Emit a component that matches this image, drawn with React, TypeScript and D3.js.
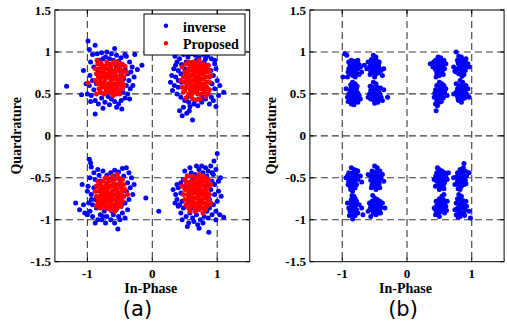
import React from "react";
import * as d3 from "d3";

// values in hundredths of a unit
const inverseA_Q1 = [[35,95],[42,92],[48,97],[55,94],[60,98],[66,96],[72,93],[78,97],[85,95],[91,92],[96,90],[38,88],[45,85],[52,88],[33,80],[40,78],[30,72],[36,70],[28,64],[34,60],[40,58],[31,54],[38,50],[44,46],[50,42],[56,40],[48,34],[42,30],[46,24],[53,27],[62,19],[58,35],[64,38],[70,36],[76,40],[82,44],[88,38],[94,42],[98,35],[102,48],[110,52],[96,56],[92,62],[100,66],[94,72],[90,78],[98,80],[86,84],[80,88],[74,86],[68,90],[61,87],[86,50],[91,46],[84,56],[78,46],[45,64],[44,74],[50,80],[88,70],[96,86],[104,60],[72,44],[66,42],[54,46],[40,66],[36,84],[82,92],[70,99],[57,30]];
const inverseA_Q2 = [[-99,113],[-132,59],[-109,49],[-88,26],[-55,34],[-27,97],[-16,84],[-23,79],[-97,103],[-92,97],[-85,98],[-78,99],[-70,100],[-63,98],[-55,96],[-48,93],[-40,95],[-35,88],[-31,82],[-95,88],[-90,82],[-96,72],[-92,66],[-97,60],[-90,55],[-94,48],[-88,42],[-95,41],[-83,38],[-78,45],[-86,62],[-84,75],[-82,90],[-76,92],[-72,94],[-66,92],[-60,90],[-52,89],[-46,85],[-42,80],[-38,74],[-36,66],[-40,60],[-34,56],[-38,50],[-42,45],[-48,42],[-52,38],[-58,41],[-63,44],[-68,47],[-73,40],[-66,37],[-60,50],[-45,52],[-35,44],[-30,60],[-28,70],[-44,68],[-48,76],[-56,84],[-80,52],[-102,62],[-100,50],[-76,33],[-47,32],[-42,97],[-58,104],[-88,108],[-106,78],[-33,76]];
const inverseA_Q3 = [[-97,-28],[-95,-32],[-94,-37],[-90,-44],[-96,-50],[-88,-52],[-82,-47],[-76,-42],[-70,-47],[-64,-44],[-58,-41],[-52,-43],[-46,-39],[-40,-38],[-36,-44],[-32,-50],[-44,-48],[-50,-52],[-38,-56],[-34,-62],[-40,-66],[-44,-72],[-36,-76],[-42,-80],[-48,-84],[-38,-88],[-46,-92],[-52,-96],[-56,-88],[-60,-94],[-64,-100],[-70,-96],[-74,-90],[-80,-94],[-84,-100],[-88,-104],[-92,-96],[-96,-90],[-100,-94],[-104,-92],[-106,-82],[-98,-80],[-92,-82],[-88,-76],[-94,-70],[-100,-66],[-108,-58],[-90,-62],[-86,-86],[-78,-100],[-72,-104],[-66,-86],[-58,-104],[-53,-111],[-50,-100],[-42,-98],[-94,-76],[-86,-60],[-80,-54],[-118,-80],[-112,-88],[-10,-74],[-30,-70],[-28,-58],[-60,-48],[-66,-52],[-84,-40],[-99,-60],[-76,-96],[-62,-90]];
const inverseA_Q4 = [[10,-90],[100,-21],[95,-30],[90,-36],[86,-42],[92,-44],[98,-40],[84,-48],[78,-44],[72,-40],[66,-46],[60,-44],[54,-48],[48,-52],[44,-56],[50,-60],[40,-62],[36,-70],[44,-68],[38,-76],[42,-82],[48,-86],[44,-92],[52,-96],[58,-92],[62,-98],[68,-94],[74,-100],[80,-96],[86,-98],[92,-94],[98,-90],[104,-94],[110,-97],[88,-86],[94,-82],[100,-78],[106,-72],[96,-70],[90,-64],[96,-58],[102,-54],[92,-54],[86,-58],[87,-115],[78,-104],[70,-106],[64,-102],[56,-104],[60,-86],[38,-58],[32,-64],[46,-78],[94,-46],[82,-38],[76,-36],[68,-36],[58,-38],[50,-42],[46,-100],[54,-108],[84,-90],[102,-66],[98,-100],[72,-110],[40,-84],[105,-50],[35,-80],[62,-52],[88,-76]];

const proposedA_Q1 = [[72,90],[52,45],[68,43],[82,47],[88,55],[48,52],[46,58],[50,64],[48,70],[50,76],[46,82],[52,86],[56,80],[54,74],[56,68],[54,62],[58,56],[56,50],[60,48],[62,54],[60,60],[62,66],[60,72],[62,78],[58,84],[64,88],[66,82],[68,76],[66,70],[68,64],[66,58],[64,52],[70,50],[72,56],[70,62],[74,68],[72,74],[70,80],[74,84],[78,86],[76,80],[78,74],[76,68],[80,62],[76,56],[74,50],[80,52],[82,58],[84,64],[82,70],[84,76],[82,82],[86,84],[88,78],[86,70],[88,64],[84,58],[78,60],[72,64],[64,60],[58,64],[52,58],[58,72],[64,74],[70,70],[76,62],[80,78],[68,86],[56,88],[50,54],[86,50],[62,44],[44,66],[74,44],[90,72],[53,66],[57,78],[67,67],[73,59],[79,68],[81,56],[65,79],[61,83],[75,77],[85,80],[51,71],[69,55],[77,83],[59,51]];
const proposedA_Q2 = [[-99,63],[-85,90],[-40,76],[-42,83],[-86,50],[-82,56],[-84,62],[-80,68],[-86,74],[-82,80],[-84,86],[-78,84],[-76,76],[-78,70],[-74,64],[-77,58],[-80,52],[-74,50],[-70,55],[-68,62],[-72,68],[-70,74],[-72,80],[-68,86],[-64,82],[-66,76],[-62,70],[-64,64],[-66,58],[-62,52],[-60,48],[-58,56],[-56,62],[-58,68],[-60,74],[-56,80],[-58,86],[-52,84],[-54,78],[-50,72],[-52,66],[-48,60],[-52,54],[-50,50],[-46,56],[-46,64],[-44,70],[-46,78],[-48,86],[-88,66],[-88,80],[-76,62],[-70,60],[-64,68],[-60,62],[-56,70],[-54,58],[-74,72],[-68,80],[-62,78],[-66,52],[-72,52],[-80,62],[-82,74],[-76,82],[-70,88],[-60,88],[-54,88],[-62,56],[-56,50],[-78,78],[-68,70],[-50,80],[-44,60],[-81,65],[-75,79],[-67,73],[-63,59],[-57,75],[-53,63],[-49,67],[-71,57],[-79,87],[-65,85],[-59,53],[-73,83],[-83,70],[-47,73]];
const proposedA_Q3 = [[-84,-54],[-86,-60],[-82,-66],[-86,-72],[-82,-78],[-86,-84],[-80,-86],[-78,-80],[-80,-72],[-76,-66],[-78,-60],[-76,-54],[-72,-50],[-70,-56],[-72,-62],[-68,-68],[-72,-74],[-70,-80],[-72,-86],[-66,-84],[-64,-78],[-66,-72],[-62,-66],[-64,-60],[-66,-54],[-62,-48],[-58,-52],[-56,-58],[-58,-64],[-56,-70],[-60,-76],[-58,-82],[-54,-86],[-52,-80],[-50,-74],[-52,-68],[-48,-62],[-50,-56],[-52,-50],[-46,-52],[-44,-58],[-46,-66],[-44,-72],[-46,-78],[-48,-84],[-74,-70],[-68,-62],[-60,-70],[-54,-64],[-62,-82],[-76,-76],[-80,-64],[-68,-78],[-56,-76],[-64,-88],[-74,-82],[-60,-58],[-70,-66],[-66,-60],[-84,-80],[-78,-70],[-58,-86],[-52,-58],[-48,-70],[-70,-50],[-88,-66],[-38,-70],[-58,-90],[-42,-64],[-54,-46],[-64,-70],[-81,-57],[-75,-63],[-69,-73],[-63,-75],[-57,-61],[-53,-73],[-49,-79],[-73,-79],[-67,-87],[-79,-83],[-61,-53],[-55,-81],[-71,-59],[-83,-75],[-47,-59]];
const proposedA_Q4 = [[78,-92],[90,-80],[50,-52],[54,-48],[52,-58],[50,-64],[54,-70],[50,-76],[52,-82],[56,-86],[58,-80],[56,-74],[58,-66],[56,-60],[60,-54],[62,-48],[64,-56],[62,-62],[64,-68],[60,-72],[62,-78],[64,-84],[68,-86],[70,-80],[68,-74],[70,-68],[68,-62],[70,-56],[68,-50],[72,-46],[74,-52],[76,-58],[74,-64],[76,-70],[72,-76],[74,-82],[78,-86],[80,-80],[82,-74],[78,-66],[80,-60],[78,-54],[82,-50],[84,-56],[86,-62],[84,-68],[86,-76],[88,-82],[84,-84],[82,-88],[72,-88],[66,-90],[58,-90],[88,-70],[72,-60],[66,-64],[60,-60],[64,-74],[58,-56],[76,-76],[82,-64],[70,-72],[54,-64],[66,-80],[78,-48],[86,-52],[60,-84],[74,-70],[90,-58],[46,-60],[48,-70],[66,-54],[80,-70],[53,-55],[57,-69],[61,-65],[63,-81],[67,-59],[71,-85],[75,-55],[77,-79],[81,-67],[83,-81],[55,-79],[69,-65],[73,-51],[85,-72],[59,-75]];

const inverseB_Q2 = [
  [-96,98],[-93,96],[-90,88],[-86,90],[-82,89],[-78,87],[-74,85],[-88,84],[-84,84],[-80,82],[-76,80],[-72,82],[-90,80],[-86,78],[-82,77],[-78,75],[-88,74],[-84,72],[-80,70],[-70,76],[-92,70],[-99,70],[-74,73],[-85,81],[-79,79],[-66,84],[-91,76],[-76,90],[-87,86],
  [-52,96],[-48,94],[-55,91],[-50,90],[-46,89],[-56,86],[-52,86],[-48,85],[-44,84],[-58,82],[-54,81],[-50,80],[-46,79],[-42,80],[-56,77],[-52,75],[-48,74],[-44,75],[-50,70],[-40,78],[-38,72],[-36,80],[-60,88],[-62,80],[-53,83],[-47,82],[-43,88],[-57,73],[-49,77],
  [-84,64],[-80,62],[-86,58],[-82,57],[-78,56],[-88,54],[-84,52],[-80,52],[-76,51],[-90,50],[-86,48],[-82,47],[-78,46],[-74,48],[-88,44],[-84,42],[-80,42],[-76,40],[-82,37],[-86,38],[-92,46],[-94,56],[-72,44],[-83,50],[-79,48],[-87,61],[-91,41],[-77,59],[-85,45],
  [-52,64],[-48,62],[-54,58],[-50,57],[-46,58],[-56,54],[-52,52],[-48,52],[-44,53],[-58,50],[-54,48],[-50,47],[-46,48],[-42,50],[-56,44],[-52,43],[-48,42],[-44,44],[-50,39],[-40,46],[-38,42],[-30,46],[-36,55],[-60,46],[-51,50],[-47,55],[-45,40],[-57,59],[-41,57]];
const inverseB_Q1 = [
  [48,94],[52,93],[44,90],[50,89],[54,88],[46,86],[50,85],[56,84],[42,84],[48,82],[52,81],[58,80],[44,79],[50,78],[54,76],[46,75],[40,82],[36,86],[50,72],[56,73],[60,86],[53,84],[47,80],[45,70],[57,90],[41,88],[55,79],
  [76,100],[80,95],[84,94],[78,90],[82,89],[86,90],[90,88],[80,85],[84,84],[88,84],[92,83],[78,80],[82,80],[86,79],[90,78],[84,75],[80,74],[88,73],[76,76],[94,86],[96,82],[72,82],[74,77],[83,82],[87,87],[91,92],[79,87],[85,71],
  [50,64],[54,62],[46,60],[52,58],[56,57],[44,55],[48,54],[52,53],[58,52],[46,50],[50,49],[54,48],[42,46],[48,45],[52,44],[56,45],[46,42],[50,40],[44,38],[60,56],[62,48],[45,30],[47,36],[51,51],[55,54],[57,60],[43,51],[53,41],
  [82,66],[86,64],[80,60],[84,59],[88,58],[78,56],[82,55],[86,54],[90,53],[76,52],[80,51],[84,50],[88,48],[92,50],[78,47],[82,46],[86,44],[80,42],[84,40],[94,56],[96,46],[72,50],[76,62],[83,53],[87,49],[91,60],[79,43],[89,45]];
const inverseB_Q3 = [
  [-86,-38],[-82,-40],[-90,-44],[-86,-45],[-82,-44],[-78,-46],[-92,-48],[-88,-50],[-84,-50],[-80,-49],[-76,-52],[-90,-54],[-86,-55],[-82,-56],[-78,-58],[-88,-60],[-84,-61],[-80,-62],[-84,-66],[-94,-50],[-72,-48],[-70,-55],[-76,-42],[-85,-52],[-81,-53],[-91,-58],[-79,-41],[-87,-64],
  [-50,-36],[-46,-38],[-54,-42],[-50,-43],[-46,-44],[-42,-42],[-56,-48],[-52,-48],[-48,-49],[-44,-48],[-40,-50],[-56,-53],[-52,-54],[-48,-55],[-44,-54],[-54,-58],[-50,-60],[-46,-59],[-48,-64],[-38,-46],[-36,-54],[-60,-46],[-42,-62],[-51,-51],[-47,-52],[-55,-62],[-43,-57],[-53,-45],
  [-82,-72],[-86,-76],[-80,-75],[-84,-79],[-88,-80],[-78,-78],[-82,-82],[-86,-84],[-90,-86],[-80,-84],[-84,-87],[-88,-90],[-78,-88],[-82,-91],[-86,-94],[-80,-95],[-84,-99],[-74,-82],[-92,-80],[-76,-92],[-70,-86],[-68,-94],[-83,-85],[-87,-88],[-89,-95],[-79,-80],[-85,-71],
  [-50,-74],[-46,-76],[-54,-78],[-50,-79],[-46,-80],[-42,-78],[-56,-83],[-52,-83],[-48,-84],[-44,-83],[-40,-85],[-54,-88],[-50,-88],[-46,-89],[-42,-88],[-52,-92],[-48,-94],[-44,-92],[-58,-80],[-38,-80],[-34,-86],[-56,-96],[-60,-90],[-49,-86],[-45,-82],[-53,-71],[-41,-92],[-57,-87]];
const inverseB_Q4 = [
  [50,-40],[54,-42],[46,-44],[50,-45],[54,-46],[58,-44],[44,-49],[48,-50],[52,-50],[56,-51],[60,-48],[46,-54],[50,-55],[54,-55],[58,-56],[48,-59],[52,-60],[56,-60],[50,-64],[42,-52],[62,-52],[64,-44],[44,-60],[51,-52],[55,-53],[47,-38],[57,-63],[45,-47],
  [88,-33],[82,-40],[86,-41],[90,-42],[78,-44],[82,-45],[86,-46],[94,-44],[76,-49],[80,-50],[84,-50],[88,-49],[92,-48],[78,-54],[82,-55],[86,-55],[90,-53],[80,-59],[84,-60],[88,-58],[82,-64],[72,-50],[96,-44],[74,-58],[83,-52],[91,-57],[79,-63],[87,-38],
  [54,-72],[50,-75],[56,-76],[52,-78],[48,-79],[58,-80],[54,-81],[50,-82],[46,-83],[56,-85],[52,-86],[48,-86],[44,-88],[54,-90],[50,-91],[46,-92],[50,-96],[42,-86],[60,-84],[62,-78],[44,-94],[58,-92],[53,-83],[49,-88],[57,-70],[45,-78],[61,-89],
  [80,-70],[84,-72],[78,-75],[82,-76],[86,-77],[76,-80],[80,-81],[84,-82],[88,-82],[78,-86],[82,-87],[86,-86],[90,-88],[80,-91],[84,-92],[88,-92],[82,-96],[74,-88],[92,-84],[96,-90],[98,-98],[76,-94],[83,-84],[87,-80],[89,-95],[79,-97],[91,-78]];

const inverseA = [...inverseA_Q1, ...inverseA_Q2, ...inverseA_Q3, ...inverseA_Q4];
const proposedA = [...proposedA_Q1, ...proposedA_Q2, ...proposedA_Q3, ...proposedA_Q4];
const inverseB = [...inverseB_Q1, ...inverseB_Q2, ...inverseB_Q3, ...inverseB_Q4];

const xTicks = [-1, 0, 1];
const yTicks = [-1.5, -1, -0.5, 0, 0.5, 1, 1.5];
const xGrid = [-1, 0, 1];
const yGrid = [-1, -0.5, 0, 0.5, 1];
const legendLabels = ["inverse", "Proposed"];
const BLUE = "#0000ff";
const RED = "#ff0000";
const SERIF = "'Liberation Serif', 'Times New Roman', serif";

type Series = { pts: number[][]; color: string };

function Panel({ x0, x1, series, label, labelX, legend }: { x0: number; x1: number; series: Series[]; label: string; labelX: number; legend: boolean }) {
  const x = d3.scaleLinear().domain([-1.5, 1.5]).range([x0, x1]);
  const y = d3.scaleLinear().domain([-1.5, 1.5]).range([261.7, 10]);
  const [yb, yt] = y.range();
  const tick = 4;
  return (
    <g>
      <rect x={x0} y={yt} width={x1 - x0} height={yb - yt} fill="#fff" />
      {xGrid.map((v) => (
        <line key={"gx" + v} x1={x(v)} x2={x(v)} y1={yt} y2={yb} stroke="#3a3a3a" strokeWidth={1.1} strokeDasharray="7,4" />
      ))}
      {yGrid.map((v) => (
        <line key={"gy" + v} x1={x0} x2={x1} y1={y(v)} y2={y(v)} stroke="#3a3a3a" strokeWidth={1.1} strokeDasharray="7,4" />
      ))}
      {series.map((s, si) => (
        <g key={si} fill={s.color}>
          {s.pts.map((p, i) => (
            <circle key={i} cx={x(p[0] / 100)} cy={y(p[1] / 100)} r={2.5} />
          ))}
        </g>
      ))}
      {xTicks.map((v) => (
        <g key={"tx" + v}>
          <line x1={x(v)} x2={x(v)} y1={yb} y2={yb - tick} stroke="#000" />
          <line x1={x(v)} x2={x(v)} y1={yt} y2={yt + tick} stroke="#000" />
          <text x={x(v)} y={yb + 16.5} textAnchor="middle" fontFamily={SERIF} fontWeight="bold" fontSize={13}>{String(v)}</text>
        </g>
      ))}
      {yTicks.map((v) => (
        <g key={"ty" + v}>
          <line x1={x0} x2={x0 + tick} y1={y(v)} y2={y(v)} stroke="#000" />
          <line x1={x1} x2={x1 - tick} y1={y(v)} y2={y(v)} stroke="#000" />
          <text x={x0 - 4} y={y(v) + 4.5} textAnchor="end" fontFamily={SERIF} fontWeight="bold" fontSize={13}>{String(v)}</text>
        </g>
      ))}
      <rect x={x0} y={yt} width={x1 - x0} height={yb - yt} fill="none" stroke="#000" strokeWidth={1} />
      {legend && (
        <g>
          <rect x={144} y={14} width={101} height={41} fill="#fff" stroke="#000" strokeWidth={1} />
          {legendLabels.map((t, i) => (
            <g key={t}>
              <circle cx={166} cy={25.7 + i * 17.6} r={2.2} fill={series[i].color} />
              <text x={183} y={31.5 + i * 17.6} fontFamily={SERIF} fontWeight="bold" fontSize={14}>{t}</text>
            </g>
          ))}
        </g>
      )}
      <text x={(x0 + x1) / 2 - 1.5} y={293} textAnchor="middle" fontFamily={SERIF} fontWeight="bold" fontSize={14}>In-Phase</text>
      <text transform={`translate(${x0 - 33.5},${(yb + yt) / 2}) rotate(-90)`} textAnchor="middle" fontFamily={SERIF} fontWeight="bold" fontSize={14}>Quardrature</text>
      <text x={labelX} y={316} textAnchor="middle" fontFamily="'DejaVu Sans', sans-serif" fontSize={21}>{label}</text>
    </g>
  );
}

export default function App() {
  return (
    <svg width={507} height={327} style={{ position: "absolute", left: 0, top: 0, background: "#fff" }}>
      <rect width={507} height={327} fill="#fff" />
      <Panel x0={54.9} x1={249.7} series={[{ pts: inverseA, color: BLUE }, { pts: proposedA, color: RED }]} label="(a)" labelX={137.5} legend={true} />
      <Panel x0={309.9} x1={504.1} series={[{ pts: inverseB, color: BLUE }]} label="(b)" labelX={403} legend={false} />
    </svg>
  );
}
